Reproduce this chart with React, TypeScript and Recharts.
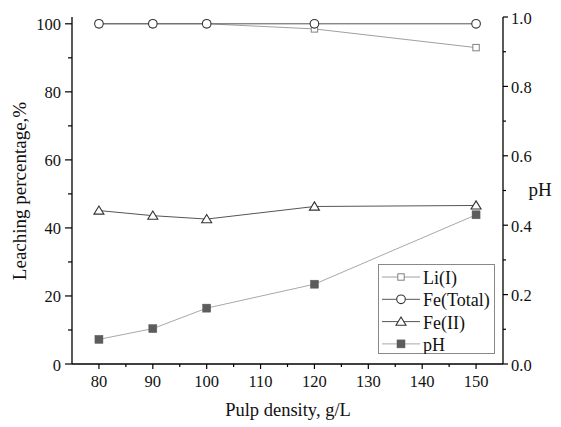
import React from 'react';
import { LineChart, Line, XAxis, YAxis } from 'recharts';

// pulp density, g/L
const density = [80, 90, 100, 120, 150];
// leaching percentage, %
const liLeach = [100, 100, 100, 98.5, 93.0];
const feTotalLeach = [100, 100, 100, 100, 100];
const fe2Leach = [45.1, 43.6, 42.6, 46.3, 46.6];
// pH (right axis)
const phValues = [0.071, 0.102, 0.161, 0.23, 0.43];

const xTicks = [80, 85, 90, 95, 100, 105, 110, 115, 120, 125, 130, 135, 140, 145, 150];
const leftTicks = [0, 10, 20, 30, 40, 50, 60, 70, 80, 90, 100];
const rightTicks = [0, 0.1, 0.2, 0.3, 0.4, 0.5, 0.6, 0.7, 0.8, 0.9, 1.0];

const data = density.map((x, i) => ({
  x,
  li: liLeach[i],
  feTotal: feTotalLeach[i],
  fe2: fe2Leach[i],
  ph: phValues[i],
}));

const FONT = '"Liberation Serif", "Times New Roman", serif';
const txt = { fontFamily: FONT };

// marker shapes
const OpenSquare = ({ cx, cy }: { cx: number; cy: number }) => (
  <rect x={cx - 3.2} y={cy - 3.2} width={6.4} height={6.4} fill="#fff" stroke="#808080" strokeWidth={1} />
);
const OpenCircle = ({ cx, cy }: { cx: number; cy: number }) => (
  <circle cx={cx} cy={cy} r={4.3} fill="#fff" stroke="#333" strokeWidth={1.1} />
);
const OpenTriangle = ({ cx, cy }: { cx: number; cy: number }) => (
  <polygon
    points={`${cx},${cy - 4.6} ${cx + 5},${cy + 3.6} ${cx - 5},${cy + 3.6}`}
    fill="#fff"
    stroke="#333"
    strokeWidth={1.1}
  />
);
const FilledSquare = ({ cx, cy }: { cx: number; cy: number }) => (
  <rect x={cx - 4} y={cy - 4} width={8} height={8} fill="#5c5c5c" stroke="#5c5c5c" strokeWidth={0.5} />
);

const series = [
  { key: 'li', name: 'Li(I)', stroke: '#a0a0a0', Marker: OpenSquare, axis: 'left' },
  { key: 'feTotal', name: 'Fe(Total)', stroke: '#555', Marker: OpenCircle, axis: 'left' },
  { key: 'fe2', name: 'Fe(II)', stroke: '#555', Marker: OpenTriangle, axis: 'left' },
  { key: 'ph', name: 'pH', stroke: '#a8a8a8', Marker: FilledSquare, axis: 'right' },
];

const LeftTick = (p: any) => {
  const v = p.payload.value;
  const ax = p.x + 11;
  const major = v % 20 === 0;
  return (
    <g>
      <line x1={ax - (major ? 7 : 4)} x2={ax} y1={p.y} y2={p.y} stroke="#000" strokeWidth={1.2} />
      {major && (
        <text x={p.x} y={p.y} dy={1} textAnchor="end" dominantBaseline="central" style={txt} fontSize={16.5} fill="#111">
          {v}
        </text>
      )}
    </g>
  );
};

const RightTick = (p: any) => {
  const v = p.payload.value;
  const ax = p.x - 8;
  const major = Math.round(v * 10) % 2 === 0;
  return (
    <g>
      <line x1={ax} x2={ax + (major ? 5 : 3)} y1={p.y} y2={p.y} stroke="#000" strokeWidth={1.2} />
      {major && (
        <text x={p.x} y={p.y} dy={1} textAnchor="start" dominantBaseline="central" style={txt} fontSize={16.5} fill="#111">
          {v.toFixed(1)}
        </text>
      )}
    </g>
  );
};

const BottomTick = (p: any) => {
  const v = p.payload.value;
  const ay = p.y - 9;
  const major = v % 10 === 0;
  return (
    <g>
      <line x1={p.x} x2={p.x} y1={ay} y2={ay + (major ? 5 : 3)} stroke="#000" strokeWidth={1.2} />
      {major && (
        <text x={p.x} y={ay + 17} textAnchor="middle" dominantBaseline="central" style={txt} fontSize={16.5} fill="#111">
          {v}
        </text>
      )}
    </g>
  );
};

export default function App() {
  return (
    <div style={{ position: 'absolute', left: 0, top: 0, width: 561, height: 427, background: '#fff', fontFamily: FONT }}>
      <LineChart width={561} height={427} data={data} margin={{ top: 17, right: 0, bottom: 0, left: 0 }}>
        <XAxis
          dataKey="x"
          type="number"
          domain={[75, 155]}
          ticks={xTicks}
          interval={0}
          height={63}
          tickSize={5}
          tickMargin={4}
          tickLine={false}
          tick={BottomTick}
          axisLine={{ stroke: '#000', strokeWidth: 1.3 }}
        />
        <XAxis
          xAxisId="top"
          orientation="top"
          dataKey="x"
          type="number"
          domain={[75, 155]}
          height={0}
          tick={false}
          tickLine={false}
          axisLine={{ stroke: '#000', strokeWidth: 1.3 }}
        />
        <YAxis
          yAxisId="left"
          type="number"
          domain={[0, 102]}
          ticks={leftTicks}
          interval={0}
          width={72}
          tickSize={7}
          tickMargin={4}
          tickLine={false}
          tick={LeftTick}
          axisLine={{ stroke: '#000', strokeWidth: 1.3 }}
        />
        <YAxis
          yAxisId="right"
          orientation="right"
          type="number"
          domain={[0, 1]}
          ticks={rightTicks}
          interval={0}
          width={58}
          tickSize={5}
          tickMargin={3}
          tickLine={false}
          tick={RightTick}
          axisLine={{ stroke: '#000', strokeWidth: 1.3 }}
        />
        {series.map((s) => (
          <Line
            key={s.key}
            yAxisId={s.axis}
            dataKey={s.key}
            name={s.name}
            type="linear"
            stroke={s.stroke}
            strokeWidth={1}
            isAnimationActive={false}
            dot={(p: any) => <s.Marker key={`${s.key}-${p.index}`} cx={p.cx} cy={p.cy} />}
            activeDot={false}
          />
        ))}
      </LineChart>

      {/* axis titles */}
      <svg width={561} height={427} style={{ position: 'absolute', left: 0, top: 0, pointerEvents: 'none' }}>
        <text x={19} y={191} transform="rotate(-90 19 191)" textAnchor="middle" dominantBaseline="central" style={txt} fontSize={19} fill="#111">
          Leaching percentage,%
        </text>
        <text x={540} y={189} textAnchor="middle" dominantBaseline="central" style={txt} fontSize={19} fill="#111">
          pH
        </text>
        <text x={288} y={410} textAnchor="middle" dominantBaseline="central" style={txt} fontSize={18.5} fill="#111">
          Pulp density, g/L
        </text>
      </svg>

      {/* legend */}
      <div
        style={{
          position: 'absolute',
          left: 378,
          top: 264,
          width: 117,
          height: 90,
          border: '1px solid #888',
          background: '#fff',
          boxSizing: 'border-box',
        }}
      >
        <svg width={117} height={90} style={{ position: 'absolute', left: -1, top: -1 }}>
          {series.map((s, i) => {
            const cy = 13 + i * 22.3;
            return (
              <g key={s.key}>
                <line x1={4} x2={42} y1={cy} y2={cy} stroke={s.stroke} strokeWidth={1} />
                <s.Marker cx={23} cy={cy} />
                <text x={45} y={cy} dy={1} dominantBaseline="central" style={txt} fontSize={18} fill="#111">
                  {s.name}
                </text>
              </g>
            );
          })}
        </svg>
      </div>
    </div>
  );
}
